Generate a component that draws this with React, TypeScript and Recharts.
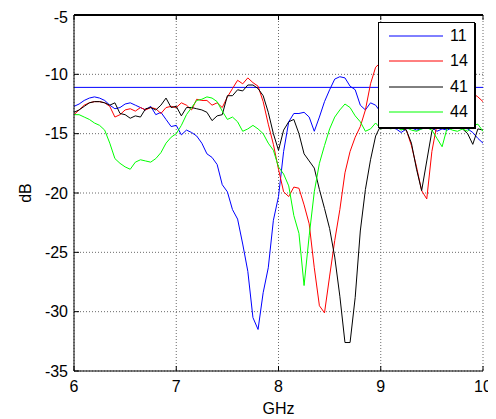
import React from 'react';
import { LineChart, Line, XAxis, YAxis, CartesianGrid, ReferenceLine, ReferenceArea } from 'recharts';

const freqGHz = [
  6.0, 6.05, 6.1, 6.15, 6.2, 6.25, 6.3, 6.35, 6.4, 6.45,
  6.5, 6.55, 6.6, 6.65, 6.7, 6.75, 6.8, 6.85, 6.9, 6.95,
  7.0, 7.05, 7.1, 7.15, 7.2, 7.25, 7.3, 7.35, 7.4, 7.45,
  7.5, 7.55, 7.6, 7.65, 7.7, 7.75, 7.8, 7.85, 7.9, 7.95,
  8.0, 8.05, 8.1, 8.15, 8.2, 8.25, 8.3, 8.35, 8.4, 8.45,
  8.5, 8.55, 8.6, 8.65, 8.7, 8.75, 8.8, 8.85, 8.9, 8.95,
  9.0, 9.05, 9.1, 9.15, 9.2, 9.25, 9.3, 9.35, 9.4, 9.45,
  9.5, 9.55, 9.6, 9.65, 9.7, 9.75, 9.8, 9.85, 9.9, 9.95, 10.0,
];

const s11 = [
  -12.7, -12.5, -12.2, -12.0, -11.9, -12.0, -12.2, -12.6, -12.9, -12.8,
  -12.5, -12.4, -12.6, -12.8, -13.0, -12.7, -13.4, -13.2, -13.8, -14.4,
  -14.3, -15.1, -14.7, -14.9, -15.2, -15.8, -16.7, -17.0, -17.6, -19.3,
  -19.9, -21.4, -22.2, -24.3, -26.6, -30.5, -31.5, -28.4, -26.3, -22.3,
  -20.3, -16.5, -14.0, -13.3, -13.3, -13.2, -13.6, -14.8, -13.6, -12.3,
  -11.3, -10.4, -10.2, -10.3, -11.0, -11.3, -12.6, -13.0, -12.4, -12.6,
  -13.2, -14.0, -14.5, -14.6, -14.9, -14.6, -14.5, -14.7, -14.6, -14.4,
  -14.5, -14.8, -14.6, -14.7, -14.5, -14.4, -14.5, -14.6, -14.9, -15.4, -15.8,
];

const s14 = [
  -13.4, -13.0, -12.6, -12.4, -12.3, -12.3, -12.4, -12.7, -13.6, -13.4,
  -13.0, -12.9, -13.1, -12.8, -13.0, -12.8, -12.9, -13.3, -12.8, -12.7,
  -12.8, -12.4, -12.6, -13.0, -12.1, -12.2, -12.2, -12.6, -12.4, -12.8,
  -11.9, -11.2, -10.5, -10.8, -10.3, -10.7, -11.0, -12.3, -14.2, -15.9,
  -18.0, -19.9, -20.3, -19.5, -19.6, -21.0, -22.6, -26.3, -29.5, -30.1,
  -27.0, -24.0, -21.4, -18.3, -16.5, -15.3, -14.4, -13.0, -10.8, -9.4,
  -9.0, -10.5, -12.5, -13.8, -14.3, -14.7, -16.0, -17.8, -19.8, -20.5,
  -16.5, -14.2, -13.6, -13.0, -12.5, -12.0, -11.7, -11.5, -11.6, -11.9, -12.3,
];

const s41 = [
  -13.2, -13.0, -12.7, -12.4, -12.3, -12.3, -12.4, -12.6, -12.4, -13.3,
  -13.4, -13.7, -13.5, -13.6, -12.9, -12.8, -13.0, -12.6, -12.0, -12.8,
  -12.7, -13.5, -12.8, -12.8, -12.9, -13.0, -13.2, -13.9, -13.5, -13.4,
  -11.8, -11.8, -11.3, -11.4, -10.9, -10.9, -11.2, -11.8, -13.2, -15.0,
  -16.4, -14.7, -14.0, -13.8, -15.0, -16.7, -17.3, -17.9, -19.7, -21.3,
  -23.0, -25.4, -28.7, -32.6, -32.6, -28.8, -23.2, -19.7, -17.2, -15.2,
  -14.3, -14.0, -14.3, -14.5, -14.6, -14.7, -15.8, -18.0, -19.8, -17.3,
  -14.8, -14.2, -14.0, -14.2, -14.3, -14.5, -14.6, -15.0, -15.9, -14.6, -14.7,
];

const s44 = [
  -13.4, -13.4, -13.6, -13.8, -14.1, -14.3, -14.7, -15.8, -17.1, -17.5,
  -17.8, -18.0, -17.4, -17.2, -17.3, -17.4, -17.1, -16.6, -15.8, -15.3,
  -15.0, -14.3, -13.4, -12.8, -12.2, -12.1, -11.9, -12.0, -12.3, -13.1,
  -13.8, -13.6, -14.0, -14.8, -14.6, -14.3, -14.6, -15.0, -15.8, -16.4,
  -17.8, -18.4, -19.4, -21.9, -23.4, -27.8, -23.6, -19.9, -17.5, -16.0,
  -14.6, -13.6, -13.0, -12.5, -12.8, -13.5, -14.0, -14.8, -14.6, -14.1,
  -14.6, -14.5, -14.6, -14.4, -14.7, -14.5, -14.7, -14.8, -14.6, -14.5,
  -14.7, -15.4, -16.1, -14.5, -14.7, -14.8, -14.6, -14.8, -14.3, -14.2, -14.8,
];

const thresholdDb = -11.1;
const xTicks = [6, 7, 8, 9, 10];
const yTicks = [-35, -30, -25, -20, -15, -10, -5];
const xDomain = [6, 10];
const yDomain = [-35, -5];

const seriesNames = ['11', '14', '41', '44'];
const seriesColors = ['#0000ff', '#ff0000', '#000000', '#00ff00'];

const data = freqGHz.map((f, i) => ({
  f,
  s11: s11[i],
  s14: s14[i],
  s41: s41[i],
  s44: s44[i],
}));
const keys = ['s11', 's14', 's41', 's44'];

const FONT = '"Liberation Sans", Arial, Helvetica, sans-serif';

const LegendBox = () => (
  <div
    style={{
      position: 'absolute',
      left: 370,
      top: 14,
      width: 97,
      height: 106,
      border: '1px solid #000',
      boxShadow: '1px 1px 0 #000',
      background: '#fff',
      boxSizing: 'border-box',
      fontFamily: FONT,
      fontSize: 16,
      color: '#000',
    }}
  >
    {seriesNames.map((name, i) => (
      <div
        key={name}
        style={{
          position: 'absolute',
          left: 10,
          top: 4 + i * 25.3,
          height: 18,
          display: 'flex',
          alignItems: 'center',
        }}
      >
        <svg width={54} height={4} style={{ display: 'block' }}>
          <line x1={0} y1={2} x2={54} y2={2} stroke={seriesColors[i]} strokeWidth={1} />
        </svg>
        <span style={{ marginLeft: 7, lineHeight: '18px' }}>{name}</span>
      </div>
    ))}
  </div>
);

export default function App() {
  return (
    <div style={{ position: 'relative', width: 488, height: 411 }}>
      <LineChart
        width={488}
        height={411}
        data={data}
        margin={{ top: 7, right: 13, left: 0, bottom: 0 }}
      >
        <CartesianGrid stroke="#6a6a6a" strokeDasharray="1 2" />
        <XAxis
          dataKey="f"
          type="number"
          domain={xDomain}
          ticks={xTicks}
          height={48}
          stroke="#000"
          tickSize={-5}
          tickMargin={15}
          tick={{ fill: '#000', fontSize: 16, fontFamily: FONT }}
          label={{ value: 'GHz', position: 'center', dy: 13, fill: '#000', fontSize: 16, fontFamily: FONT }}
        />
        <YAxis
          type="number"
          domain={yDomain}
          ticks={yTicks}
          width={66}
          stroke="#000"
          tickSize={-5}
          tickMargin={11}
          tick={{ fill: '#000', fontSize: 16, fontFamily: FONT }}
          label={{ value: 'dB', angle: -90, position: 'center', dx: -16, fill: '#000', fontSize: 16, fontFamily: FONT }}
        />
        <YAxis
          yAxisId="right"
          orientation="right"
          type="number"
          domain={yDomain}
          ticks={yTicks}
          width={0}
          stroke="#000"
          tickSize={-5}
          tick={false}
        />
        <ReferenceArea
          x1={6}
          x2={10}
          y1={-5.09}
          y2={-5}
          fill="#000"
          fillOpacity={1}
          stroke="none"
          ifOverflow="visible"
        />
        <ReferenceLine y={-5} stroke="#000" strokeWidth={2} ifOverflow="visible" />
        {xTicks.map((t) => (
          <ReferenceLine
            key={'tt' + t}
            segment={[{ x: t, y: -5 }, { x: t, y: -5.42 }]}
            stroke="#000"
            strokeWidth={1}
            ifOverflow="visible"
          />
        ))}
        <ReferenceLine y={thresholdDb} stroke="#0000ff" strokeWidth={1} />
        {keys.map((k, i) => (
          <Line
            key={k}
            dataKey={k}
            name={seriesNames[i]}
            stroke={seriesColors[i]}
            strokeWidth={1}
            dot={false}
            activeDot={false}
            isAnimationActive={false}
            type="linear"
          />
        ))}
      </LineChart>
      <LegendBox />
    </div>
  );
}
